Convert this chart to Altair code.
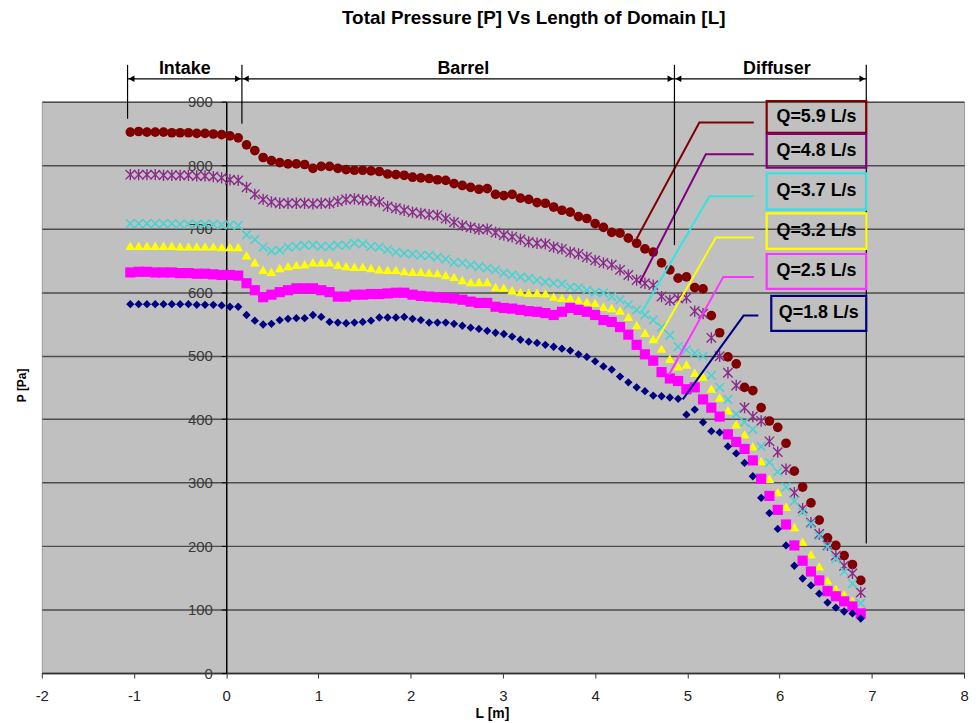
import altair as alt
import pandas as pd

# ---------------- data ----------------
L_M = [-1.04, -0.95, -0.86, -0.77, -0.68, -0.59, -0.50, -0.41, -0.32, -0.23,
       -0.14, -0.05, 0.04, 0.13, 0.22, 0.31, 0.40, 0.49, 0.58, 0.67,
       0.76, 0.85, 0.94, 1.03, 1.12, 1.21, 1.30, 1.39, 1.48, 1.57,
       1.66, 1.75, 1.84, 1.93, 2.02, 2.11, 2.20, 2.29, 2.38, 2.47,
       2.56, 2.65, 2.74, 2.83, 2.92, 3.01, 3.10, 3.19, 3.28, 3.37,
       3.46, 3.55, 3.64, 3.73, 3.82, 3.91, 4.00, 4.09, 4.18, 4.27,
       4.36, 4.45, 4.54, 4.63, 4.72, 4.81, 4.90, 4.99, 5.08, 5.17,
       5.26, 5.35, 5.44, 5.53, 5.62, 5.71, 5.80, 5.89, 5.98, 6.07,
       6.16, 6.25, 6.34, 6.43, 6.52, 6.61, 6.70, 6.79, 6.88]

P_Q59 = [852, 853, 852, 852, 852, 851, 851, 851, 850, 850, 849, 848, 846, 843,
         832, 823, 812, 807, 804, 802, 802, 801, 795, 798, 798, 795, 793, 792,
         792, 791, 790, 786, 785, 784, 781, 780, 779, 777, 776, 771, 768, 765,
         762, 763, 754, 752, 754, 748, 746, 741, 740, 734, 729, 726, 719, 716,
         708, 702, 694, 693, 685, 677, 668, 663, 646, 635, 622, 624, 607, 605,
         563, 536, 498, 487, 450, 445, 418, 397, 387, 362, 318, 293, 268, 241,
         213, 201, 185, 171, 146]
P_Q48 = [785, 785, 785, 785, 784, 784, 784, 784, 783, 783, 782, 780, 777, 776,
         765, 754, 746, 742, 740, 740, 740, 740, 739, 740, 740, 743, 746, 747,
         745, 744, 742, 735, 732, 729, 726, 724, 722, 721, 716, 710, 705, 702,
         699, 699, 694, 690, 687, 683, 679, 677, 676, 671, 668, 663, 660, 655,
         650, 646, 643, 635, 627, 619, 614, 611, 593, 587, 590, 591, 570, 566,
         528, 499, 473, 453, 418, 404, 397, 365, 348, 321, 284, 259, 237, 219,
         201, 185, 169, 157, 127]
P_Q37 = [708, 708, 708, 708, 708, 708, 707, 707, 707, 707, 707, 706, 706, 705,
         690, 683, 671, 665, 666, 671, 672, 674, 674, 672, 672, 674, 674, 677,
         676, 672, 671, 667, 663, 661, 660, 658, 658, 655, 652, 647, 646, 643,
         640, 638, 635, 630, 627, 624, 622, 619, 616, 614, 613, 608, 607, 603,
         600, 599, 593, 588, 580, 572, 564, 556, 545, 532, 514, 509, 504, 499,
         469, 450, 431, 408, 395, 384, 357, 332, 317, 293, 271, 254, 235, 216,
         199, 180, 160, 141, 110]
P_Q32 = [673, 673, 673, 673, 673, 673, 672, 672, 672, 672, 672, 671, 671, 671,
         658, 647, 635, 632, 638, 641, 643, 644, 647, 647, 647, 643, 641, 640,
         640, 638, 636, 635, 635, 633, 632, 632, 631, 630, 627, 624, 619, 616,
         616, 616, 608, 607, 603, 600, 599, 599, 598, 593, 591, 591, 588, 585,
         583, 577, 575, 571, 561, 548, 536, 526, 511, 495, 483, 486, 473, 467,
         448, 434, 414, 392, 376, 357, 334, 306, 285, 262, 230, 207, 187, 168,
         146, 133, 124, 114, 97]
P_Q25 = [631, 632, 632, 631, 631, 631, 630, 630, 629, 629, 628, 627, 627, 626,
         614, 603, 592, 596, 600, 603, 606, 606, 606, 603, 600, 593, 593, 596,
         596, 597, 597, 598, 599, 599, 596, 594, 593, 592, 591, 590, 588, 585,
         583, 583, 577, 575, 574, 572, 570, 569, 567, 564, 569, 575, 572, 569,
         564, 556, 553, 545, 533, 517, 502, 492, 474, 464, 460, 447, 450, 431,
         418, 404, 376, 364, 353, 335, 306, 279, 257, 234, 201, 177, 160, 146,
         129, 121, 113, 105, 94]
P_Q18 = [581, 581, 581, 581, 581, 581, 581, 581, 580, 580, 580, 579, 577, 577,
         564, 555, 549, 550, 556, 558, 559, 559, 564, 561, 553, 552, 551, 552,
         553, 555, 560, 560, 560, 561, 558, 556, 552, 552, 552, 550, 547, 544,
         542, 539, 536, 534, 530, 525, 522, 520, 517, 514, 511, 508, 502, 498,
         491, 483, 478, 467, 458, 450, 444, 437, 436, 434, 432, 407, 415, 395,
         381, 379, 357, 346, 331, 310, 276, 252, 227, 201, 169, 149, 138, 125,
         111, 103, 97, 94, 86]

SERIES = ["Q=5.9 L/s", "Q=4.8 L/s", "Q=3.7 L/s", "Q=3.2 L/s", "Q=2.5 L/s", "Q=1.8 L/s"]
VALUES = [P_Q59, P_Q48, P_Q37, P_Q32, P_Q25, P_Q18]

X_TICKS = [-2, -1, 0, 1, 2, 3, 4, 5, 6, 7, 8]
Y_TICKS = [0, 100, 200, 300, 400, 500, 600, 700, 800, 900]

# section annotation (Intake / Barrel / Diffuser)
SECTION_NAMES = ["Intake", "Barrel", "Diffuser"]
SECTION_L = [-0.45, 2.57, 5.97]
SECTION_P = 952
BOUND_L = [-1.07, 0.17, 4.86, 6.94]
BOUND_P_LOW = [873, 865, 674, 204]
BOUND_P_HIGH = 958
ARROW_P = 936

# call-out labels
BOX_L_LEFT = [5.86, 5.86, 5.86, 5.86, 5.86, 5.91]
BOX_L_RIGHT = [6.94, 6.94, 6.94, 6.94, 6.94, 6.94]
BOX_P_TOP = [901, 849, 787, 724, 660, 594]
BOX_P_BOTTOM = [851, 796, 730, 668, 605, 539]
LEADER_L = [[5.72, 5.13, 4.45], [5.72, 5.20, 4.48], [5.72, 5.24, 4.50],
            [5.72, 5.31, 4.66], [5.72, 5.39, 4.80], [5.77, 5.61, 4.95]]
LEADER_P = [[867, 867, 684], [817, 817, 614], [751, 751, 567],
            [686, 686, 522], [624, 624, 470], [563, 563, 431]]

# ---------------- styles ----------------
NARROW_FONT = "Liberation Sans Narrow, Arial Narrow, Liberation Sans"
MAIN_FONT = "Liberation Sans, Arial"
ASTERISK = "M-1,-1L1,1M-1,1L1,-1M0,-1.2L0,1.2"
XMARK = "M-1,-1L1,1M-1,1L1,-1"
LINE_COLORS = ["#800000", "#800080", "#33e3e3", "#ffff00", "#ff33ff", "#000080"]
MARKERS = [
    dict(shape="circle", filled=True, size=95, color="#800000"),
    dict(shape=ASTERISK, filled=False, size=90, color="#8a2a8a", strokeWidth=1.4),
    dict(shape=XMARK, filled=False, size=75, color="#48d2d2", strokeWidth=1.6),
    dict(shape="triangle-up", filled=True, size=95, color="#ffff00"),
    dict(shape="square", filled=True, size=105, color="#ff00ff"),
    dict(shape="diamond", filled=True, size=70, color="#000080"),
]

xs = alt.Scale(domain=[-2, 8], nice=False, zero=False)
ys = alt.Scale(domain=[0, 900], nice=False, zero=False)
ser_color = alt.Scale(domain=SERIES, range=LINE_COLORS)

x_axis = alt.Axis(values=X_TICKS, labelExpr="'' + datum.value", labelFlush=False,
                  grid=False, domainColor="#333333", domainWidth=1.5,
                  tickColor="#333333", tickSize=5, labelPadding=11,
                  labelFont=MAIN_FONT, labelFontSize=15, labelColor="#222222",
                  title="L [m]", titleFont=NARROW_FONT, titleFontSize=14,
                  titleFontWeight="bold", titleColor="black", titlePadding=3,
                  titleX=453)
y_axis = alt.Axis(values=Y_TICKS, grid=True, gridColor="#4d4d4d", gridWidth=1.5,
                  offset=-185.6, domainColor="black", domainWidth=1.5,
                  tickColor="black", tickSize=5, labelPadding=9,
                  labelFont=MAIN_FONT, labelFontSize=15, labelColor="#3a3a3a",
                  title="P [Pa]", titleFont=NARROW_FONT, titleFontSize=12,
                  titleFontWeight="bold", titleColor="black",
                  titleX=-205.6, titleY=285, titleBaseline="middle")


def X(field):
    return alt.X(field, scale=xs)


def Y(field):
    return alt.Y(field, scale=ys)


layers = []
for i, (name, vals) in enumerate(zip(SERIES, VALUES)):
    df = pd.DataFrame({"L": L_M, "P": vals, "Series": name})
    if i == 0:
        enc = dict(x=alt.X("L:Q", scale=xs, axis=x_axis),
                   y=alt.Y("P:Q", scale=ys, axis=y_axis))
    else:
        enc = dict(x=X("L:Q"), y=Y("P:Q"))
    layers.append(alt.Chart(df).mark_point(opacity=1, **MARKERS[i]).encode(**enc))

# section boundary lines
bounds_df = pd.DataFrame({"L": BOUND_L, "P1": BOUND_P_LOW,
                          "P2": [BOUND_P_HIGH] * len(BOUND_L)})
bounds = alt.Chart(bounds_df).mark_rule(color="black", strokeWidth=1.2).encode(
    x=X("L:Q"), y=Y("P1:Q"), y2="P2:Q")

arrow_df = pd.DataFrame({"L1": BOUND_L[:-1], "L2": BOUND_L[1:],
                         "P": [ARROW_P] * (len(BOUND_L) - 1)})
arrows = alt.Chart(arrow_df).mark_rule(color="black", strokeWidth=1.3).encode(
    x=X("L1:Q"), x2="L2:Q", y=Y("P:Q"))
heads_left = alt.Chart(arrow_df).mark_point(
    shape="triangle-left", filled=True, color="black", size=45, opacity=1, xOffset=4
).encode(x=X("L1:Q"), y=Y("P:Q"))
heads_right = alt.Chart(arrow_df).mark_point(
    shape="triangle-right", filled=True, color="black", size=45, opacity=1, xOffset=-4
).encode(x=X("L2:Q"), y=Y("P:Q"))

sec_df = pd.DataFrame({"L": SECTION_L, "P": [SECTION_P] * 3, "name": SECTION_NAMES})
sections = alt.Chart(sec_df).mark_text(
    font=NARROW_FONT, fontSize=18, fontWeight="bold", color="black", baseline="middle"
).encode(x=X("L:Q"), y=Y("P:Q"), text="name:N")

# leader lines
lead_rows = []
for name, ls, ps in zip(SERIES, LEADER_L, LEADER_P):
    for k, (l, p) in enumerate(zip(ls, ps)):
        lead_rows.append({"Series": name, "ord": k, "L": l, "P": p})
leaders = alt.Chart(pd.DataFrame(lead_rows)).mark_line(strokeWidth=2).encode(
    x=X("L:Q"), y=Y("P:Q"),
    color=alt.Color("Series:N", scale=ser_color, legend=None),
    order="ord:Q")

box_df = pd.DataFrame({"Series": SERIES, "BL": BOX_L_LEFT, "BR": BOX_L_RIGHT,
                       "PT": BOX_P_TOP, "PB": BOX_P_BOTTOM})
box_df["LC"] = (box_df["BL"] + box_df["BR"]) / 2
box_df["PC"] = (box_df["PT"] + box_df["PB"]) / 2
boxes = alt.Chart(box_df).mark_rect(fillOpacity=0, strokeWidth=2.2).encode(
    x=X("BL:Q"), x2="BR:Q", y=Y("PT:Q"), y2="PB:Q",
    stroke=alt.Stroke("Series:N", scale=ser_color, legend=None))
box_text = alt.Chart(box_df).mark_text(
    font=MAIN_FONT, fontSize=18, fontWeight="bold", color="black", baseline="middle"
).encode(x=X("LC:Q"), y=Y("PC:Q"), text="Series:N")

chart = alt.layer(
    *layers, leaders, bounds, arrows, heads_left, heads_right, sections, boxes, box_text
).properties(
    width=928, height=575,
    padding={"left": 34, "top": 92, "right": 5, "bottom": 48},
    autosize=alt.AutoSizeParams(type="none"),
    title=alt.TitleParams("Total Pressure [P] Vs Length of Domain [L]", font=MAIN_FONT,
                          fontSize=19, fontWeight="bold", color="black",
                          frame="group", dx=31, offset=32),
).configure_view(fill="#c0c0c0", stroke="#9a9a9a", strokeWidth=1)

chart.save("out.html", embed_options={"renderer": "svg", "actions": False})
